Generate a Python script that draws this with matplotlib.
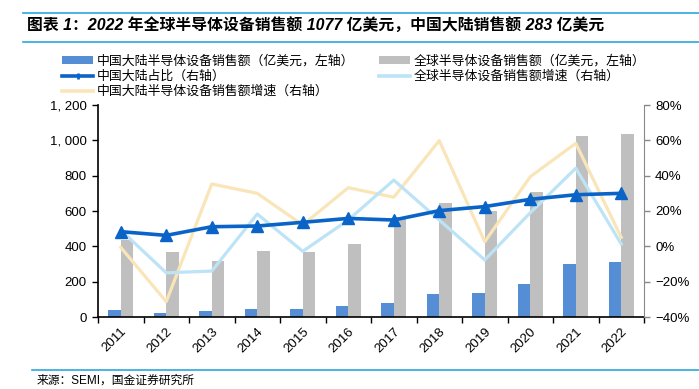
import matplotlib
matplotlib.use("Agg")
import matplotlib.pyplot as plt
import numpy as np
from matplotlib.lines import Line2D
from matplotlib.patches import Patch
from matplotlib.ticker import FuncFormatter, FixedLocator, NullFormatter

plt.rcParams['font.family'] = ['Liberation Sans', 'Noto Sans CJK SC', 'DejaVu Sans']

years = ["2011", "2012", "2013", "2014", "2015", "2016",
         "2017", "2018", "2019", "2020", "2021", "2022"]
# 亿美元, left axis
china_sales = [38, 25, 32, 44, 46, 65, 82, 130, 136, 188, 300, 310]
global_sales = [436, 366, 319, 373, 366, 415, 566, 647, 602, 709, 1024, 1037]
# right axis (fractions)
china_share = [0.083, 0.062, 0.111, 0.115, 0.136, 0.158, 0.149, 0.202, 0.225, 0.266, 0.292, 0.300]
global_growth = [0.092, -0.150, -0.140, 0.183, -0.028, 0.149, 0.375, 0.149, -0.077, 0.190, 0.442, 0.013]
china_growth = [-0.006, -0.313, 0.353, 0.300, 0.121, 0.332, 0.278, 0.598, 0.026, 0.394, 0.583, 0.051]

lbl_china_bar = "中国大陆半导体设备销售额（亿美元，左轴）"
lbl_global_bar = "全球半导体设备销售额（亿美元，左轴）"
lbl_share = "中国大陆占比（右轴）"
lbl_global_g = "全球半导体设备销售额增速（右轴）"
lbl_china_g = "中国大陆半导体设备销售额增速（右轴）"

c_blue_bar = "#558ED5"
c_gray_bar = "#BFBFBF"
c_share = "#0A64C8"
c_lblue = "#BDE3F7"
c_yellow = "#F9E5B8"
c_rule = "#2AA8E0"

fig = plt.figure(figsize=(6.99, 3.89), dpi=100)
ax = fig.add_axes([98 / 699, 1 - 317 / 389, 546 / 699, 212 / 389])

x = np.arange(len(years))
w = 0.28
ax.bar(x - w / 2, china_sales, w, color=c_blue_bar, zorder=2)
ax.bar(x + w / 2, global_sales, w, color=c_gray_bar, zorder=2)
ax.set_xlim(-0.5, len(years) - 0.5)
ax.set_ylim(0, 1200)
ax.set_yticks(range(0, 1201, 200))
ax.yaxis.set_major_formatter(FuncFormatter(lambda v, p: f"{v:,.0f}".replace(",", ", ")))
ax.set_xticks(x)
ax.set_xticklabels(years, rotation=45, ha="right", rotation_mode="anchor")
ax.xaxis.set_minor_locator(FixedLocator(np.arange(-0.5, len(years), 1)))
ax.xaxis.set_minor_formatter(NullFormatter())
ax.tick_params(axis="x", which="major", length=0, labelsize=9.5, pad=6)
ax.tick_params(axis="x", which="minor", length=4, width=1, direction="out")
ax.tick_params(axis="y", length=4, width=1, labelsize=9.5, pad=4)
for s in ["top", "right"]:
    ax.spines[s].set_visible(False)
ax.spines["left"].set_linewidth(1.2)
ax.spines["bottom"].set_linewidth(1.2)

ax2 = ax.twinx()
ax2.plot(x, china_growth, color=c_yellow, lw=2.3, zorder=3)
ax2.plot(x, global_growth, color=c_lblue, lw=2.3, zorder=4)
ax2.plot(x, china_share, color=c_share, lw=2.6, marker="^", markersize=8, zorder=5)
ax2.set_ylim(-0.4, 0.8)
ax2.set_yticks(np.arange(-0.4, 0.81, 0.2))
ax2.yaxis.set_major_formatter(FuncFormatter(lambda v, p: f"{v * 100:.0f}%".replace("-", "\u2212")))
ax2.tick_params(axis="y", length=4, width=1, labelsize=9.5, pad=4, color="#888888")
for s in ["top", "left", "bottom"]:
    ax2.spines[s].set_visible(False)
ax2.spines["right"].set_color("#888888")

h_china_bar = Patch(facecolor=c_blue_bar)
h_global_bar = Patch(facecolor=c_gray_bar)
h_share = Line2D([], [], color=c_share, lw=2.6, marker="|", markersize=5, markeredgewidth=2)
h_global_g = Line2D([], [], color=c_lblue, lw=2.6)
h_china_g = Line2D([], [], color=c_yellow, lw=2.6)

leg_kw = dict(frameon=False, fontsize=9.3, handlelength=2.4, handleheight=0.5,
              handletextpad=0.3, labelspacing=0.22, borderaxespad=0, borderpad=0)
fig.legend([h_china_bar, h_share, h_china_g], [lbl_china_bar, lbl_share, lbl_china_g],
           loc="upper left", bbox_to_anchor=(62 / 699, 1 - 55 / 389), **leg_kw)
fig.legend([h_global_bar, h_global_g], [lbl_global_bar, lbl_global_g],
           loc="upper left", bbox_to_anchor=(379 / 699, 1 - 55 / 389), **leg_kw)

fig.add_artist(Line2D([23 / 699, 1], [1 - 12.7 / 389] * 2, color=c_rule, lw=1.2))
fig.add_artist(Line2D([23 / 699, 1], [1 - 41.7 / 389] * 2, color=c_rule, lw=1.2))
fig.add_artist(Line2D([32 / 699, 1], [1 - 370 / 389] * 2, color=c_rule, lw=1.2))

fig.text(27 / 699, 1 - 26 / 389,
         "图表 1：2022 年全球半导体设备销售额 1077 亿美元，中国大陆销售额 283 亿美元",
         fontsize=11.4, fontweight="bold", style="italic", va="center", ha="left")
fig.text(37 / 699, 1 - 381 / 389, "来源：SEMI，国金证券研究所",
         fontsize=8.5, va="center", ha="left")

fig.savefig("out.png", dpi=100)
